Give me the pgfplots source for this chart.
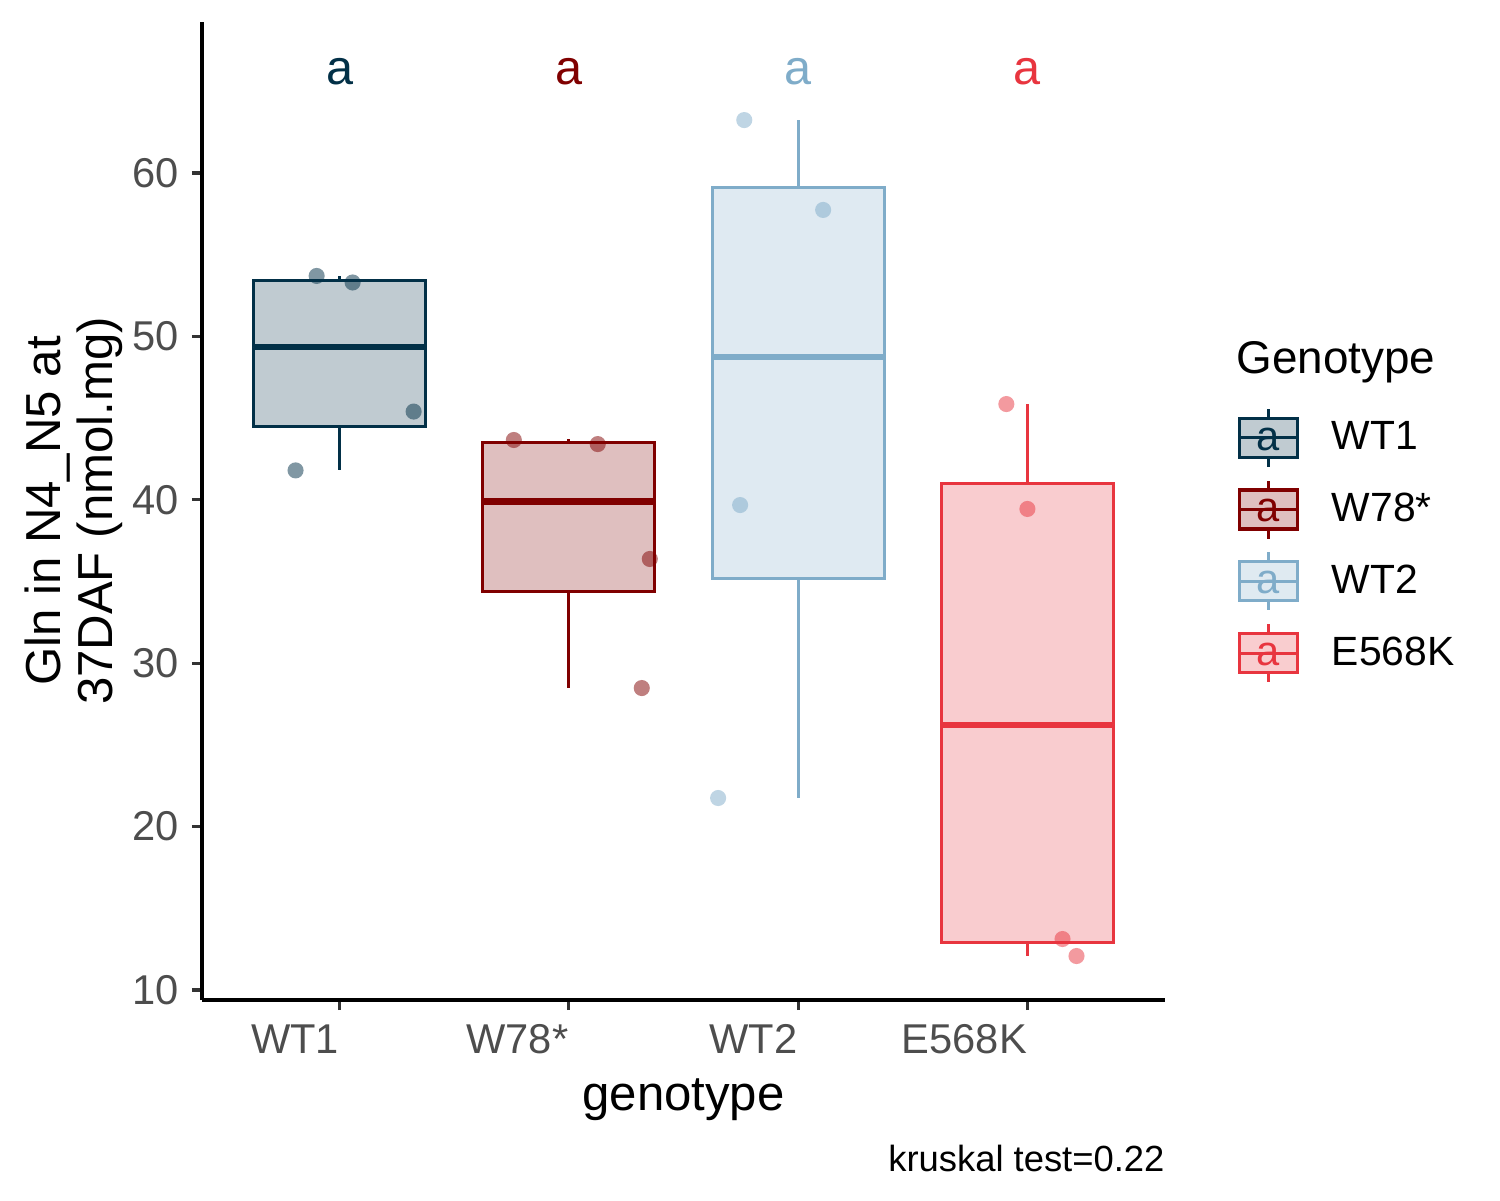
\documentclass[border=0pt]{standalone}
\usepackage{fontspec}
\setmainfont{Liberation Sans}
\usepackage{pgfplots}
\pgfplotsset{compat=1.18}
\usepgfplotslibrary{statistics}
\definecolor{c1}{HTML}{023047}
\definecolor{c2}{HTML}{800000}
\definecolor{c3}{HTML}{7FACC9}
\definecolor{c4}{HTML}{E8353F}
\definecolor{tickgray}{HTML}{4D4D4D}
\newcommand{\legkey}[1]{%
  \fill[#1!25!white] (0pt,-7.02pt) rectangle (20.88pt,7.02pt);
  \draw[#1, line width=1.1pt] (10.44pt,7.02pt) -- (10.44pt,10.44pt);
  \draw[#1, line width=1.1pt] (10.44pt,-7.02pt) -- (10.44pt,-10.44pt);
  \draw[#1, line width=1.1pt] (0pt,-7.02pt) rectangle (20.88pt,7.02pt);
  \draw[#1, line width=1.1pt] (0pt,0pt) -- (20.88pt,0pt);
  \node[text=#1, inner sep=0pt, anchor=center, font=\fontsize{15}{15}\selectfont] at (10.44pt,-1.2pt) {a};
}
\pgfplotsset{
  gbox/.style={forget plot, draw=#1, fill=#1!25!white, line width=1.1pt, solid, mark=none,
    boxplot/draw direction=y, boxplot/every median/.style={line width=2.4pt}},
  gpts/.style={forget plot, only marks, mark=*, mark size=2.9pt, color=#1,
    mark options={solid, draw=#1, draw opacity=0, fill=#1, fill opacity=0.5}},
}
\begin{document}
\begin{tikzpicture}
\begin{axis}[
  scale only axis,
  width=346.68pt, height=352.08pt,
  xmin=0.4, xmax=4.6,
  ymin=9.388, ymax=69.24,
  axis lines=left,
  axis line style={-, line width=1.2pt, black},
  clip=false,
  xtick={1,2,3,4},
  xticklabels={WT1,W78*,WT2,E568K},
  ytick={10,20,30,40,50,60},
  tick align=outside,
  major tick length=3.6pt,
  tick style={line width=1.1pt, color=black!80},
  /pgf/number format/assume math mode=true,
  tick label style={font=\fontsize{15}{18}\selectfont, text=tickgray},
  xticklabel style={anchor=north east, inner sep=0pt, yshift=-5pt},
  yticklabel style={anchor=east, inner sep=0pt, xshift=-4.5pt},
  xlabel={genotype},
  xlabel style={at={(axis description cs:0.5,0)}, anchor=base, yshift=-39.6pt, font=\fontsize{17.7}{20}\selectfont, inner sep=0pt},
  ylabel={Gln in N4\_N5 at\\37DAF (nmol.mg)},
  ylabel style={at={(axis description cs:-0.1334,0.5)}, anchor=center, align=center, font=\fontsize{17.7}{18.7}\selectfont, inner sep=0pt},
  legend style={at={(1.0665,0.6125)}, anchor=north west, draw=none, fill=none,
    font=\fontsize{14.7}{17}\selectfont, row sep=3.9pt, nodes={inner sep=0pt},
    /tikz/every odd column/.append style={column sep=11.8pt}},
  legend cell align=left,
]
\addlegendimage{legend image code/.code={\legkey{c1}}}
\addlegendentry{WT1}
\addlegendimage{legend image code/.code={\legkey{c2}}}
\addlegendentry{W78*}
\addlegendimage{legend image code/.code={\legkey{c3}}}
\addlegendentry{WT2}
\addlegendimage{legend image code/.code={\legkey{c4}}}
\addlegendentry{E568K}

% boxes
\addplot[gbox=c1,
  boxplot prepared={draw position=1, lower whisker=41.8, lower quartile=44.46,
  median=49.35, upper quartile=53.4, upper whisker=53.7, box extend=0.75,
  whisker extend=0}] coordinates {};
\addplot[gbox=c2,
  boxplot prepared={draw position=2, lower whisker=28.5, lower quartile=34.4,
  median=39.9, upper quartile=43.5, upper whisker=43.7, box extend=0.75,
  whisker extend=0}] coordinates {};
\addplot[gbox=c3,
  boxplot prepared={draw position=3, lower whisker=21.75, lower quartile=35.2,
  median=48.74, upper quartile=59.14, upper whisker=63.24, box extend=0.75,
  whisker extend=0}] coordinates {};
\addplot[gbox=c4,
  boxplot prepared={draw position=4, lower whisker=12.08, lower quartile=12.88,
  median=26.22, upper quartile=40.97, upper whisker=45.86, box extend=0.75,
  whisker extend=0}] coordinates {};

% jittered points
\addplot[gpts=c1] coordinates {(0.900,53.70) (1.057,53.30) (1.323,45.40) (0.808,41.80)};
\addplot[gpts=c2] coordinates {(1.760,43.66) (2.126,43.41) (2.353,36.38) (2.318,28.48)};
\addplot[gpts=c3] coordinates {(2.765,63.24) (3.109,57.74) (2.747,39.68) (2.651,21.75)};
\addplot[gpts=c4] coordinates {(3.908,45.86) (4.000,39.44) (4.153,13.12) (4.214,12.08)};

% group letters
\node[anchor=base, text=c1, font=\fontsize{17.5}{18}\selectfont, inner sep=0pt] at (axis cs:1,65.39) {a};
\node[anchor=base, text=c2, font=\fontsize{17.5}{18}\selectfont, inner sep=0pt] at (axis cs:2,65.39) {a};
\node[anchor=base, text=c3, font=\fontsize{17.5}{18}\selectfont, inner sep=0pt] at (axis cs:3,65.39) {a};
\node[anchor=base, text=c4, font=\fontsize{17.5}{18}\selectfont, inner sep=0pt] at (axis cs:4,65.39) {a};

% legend title and caption
\node[anchor=base west, font=\fontsize{16.5}{18}\selectfont, inner sep=0pt] at (axis description cs:1.0737,0.6411) {Genotype};
\node[anchor=base east, font=\fontsize{13.1}{15}\selectfont, inner sep=0pt, yshift=-61.9pt] at (axis description cs:1,0) {kruskal test=0.22};
\end{axis}
\path (current axis.south west) ++(-72.72pt,-72pt) rectangle ++(540pt,432pt);
\end{tikzpicture}
\end{document}
